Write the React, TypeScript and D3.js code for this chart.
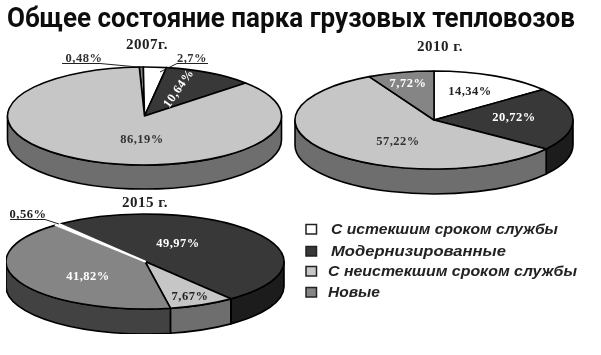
import React from "react";
import * as d3 from "d3";

const categories = ["С истекшим сроком службы", "Модернизированные", "С неистекшим сроком службы", "Новые"];
const topColors = ["#ffffff", "#383838", "#c6c6c6", "#858585"];
const sideColors = ["#e0e0e0", "#1c1c1c", "#6e6e6e", "#424242"];

// [category index, percentage], clockwise from the start angle
const slices2007: [number, number][] = [[3, 0.48], [0, 2.7], [1, 10.64], [2, 86.19]];
const slices2010: [number, number][] = [[0, 14.34], [1, 20.72], [2, 57.22], [3, 7.72]];
const slices2015: [number, number][] = [[1, 49.97], [2, 7.67], [3, 41.82], [0, 0.56]];

const title = "Общее состояние парка грузовых тепловозов";
const FONT_LABEL = "'Liberation Serif', serif";

type Pie = { slices: [number, number][]; cx: number; cy: number; rx: number; ry: number; depth: number; startDeg: number };
const pies: Pie[] = [
  { slices: slices2007, cx: 144.5, cy: 116, rx: 137, ry: 49, depth: 24, startDeg: -2.2 },
  { slices: slices2010, cx: 434, cy: 120, rx: 139, ry: 49, depth: 25, startDeg: 0 },
  { slices: slices2015, cx: 145, cy: 261.5, rx: 139, ry: 47.5, depth: 25, startDeg: -38 },
];

function Pie3D({ p }: { p: Pie }) {
  const start = (p.startDeg * Math.PI) / 180;
  const arcs = d3
    .pie<[number, number]>()
    .sort(null)
    .value((d) => d[1])
    .startAngle(start)
    .endAngle(start + 2 * Math.PI)(p.slices);
  const pt = (a: number, dy = 0): [number, number] => [p.cx + p.rx * Math.sin(a), p.cy - p.ry * Math.cos(a) + dy];
  const sides: React.ReactNode[] = [];
  arcs.forEach((a, i) => {
    // visible rim: parametric angle between 90° and 270°
    for (const shift of [0, 2 * Math.PI]) {
      const a0 = Math.max(a.startAngle, Math.PI / 2 + shift);
      const a1 = Math.min(a.endAngle, (3 * Math.PI) / 2 + shift);
      if (a1 <= a0) continue;
      const [x0, y0] = pt(a0);
      const [x1, y1] = pt(a1);
      const d = `M${x0},${y0}A${p.rx},${p.ry} 0 0 1 ${x1},${y1}L${x1},${y1 + p.depth}A${p.rx},${p.ry} 0 0 0 ${x0},${y0 + p.depth}Z`;
      sides.push(<path key={`s${i}${shift}`} d={d} fill={sideColors[a.data[0]]} stroke="#000" strokeWidth={1.6} strokeLinejoin="round" />);
    }
  });
  const tops = arcs.map((a, i) => {
    const [x0, y0] = pt(a.startAngle);
    const [x1, y1] = pt(a.endAngle);
    const large = a.endAngle - a.startAngle > Math.PI ? 1 : 0;
    const d = `M${p.cx},${p.cy}L${x0},${y0}A${p.rx},${p.ry} 0 ${large} 1 ${x1},${y1}Z`;
    const thinWhite = a.data[0] === 0 && a.data[1] < 1;
    return (
      <path
        key={i}
        d={d}
        fill={topColors[a.data[0]]}
        stroke={thinWhite ? "#fff" : "#000"}
        strokeWidth={thinWhite ? 2 : 1.6}
        strokeLinejoin="round"
      />
    );
  });
  return (
    <g>
      {sides}
      {tops}
    </g>
  );
}

type Lbl = [string, number, number, string, number?];
const valueLabels: Lbl[] = [
  ["0,48%", 84, 58, "#333"],
  ["2,7%", 192, 58, "#333"],
  ["10,64%", 178, 88, "#fff", -55],
  ["86,19%", 142, 139, "#333"],
  ["14,34%", 470, 91, "#222"],
  ["20,72%", 514, 117, "#fff"],
  ["57,22%", 398, 141, "#333"],
  ["7,72%", 408, 83, "#fff"],
  ["49,97%", 178, 243, "#fff"],
  ["41,82%", 88, 276, "#fff"],
  ["7,67%", 190, 296, "#222"],
  ["0,56%", 28, 214, "#222"],
];
const yearLabels: [string, number, number][] = [
  ["2007г.", 147, 44],
  ["2010 г.", 440, 46],
  ["2015 г.", 145, 202],
];
const leaders: [number, number][][] = [
  [[62, 63.5], [100, 63.5], [138, 67]],
  [[208, 63.5], [177, 63.5], [160, 72]],
  [[10, 219.5], [45, 219.5], [59, 224]],
];
const legendRows: [number, number, number][] = [
  [229, 331, 227],
  [251, 331, 175],
  [271, 328, 249],
  [292, 328, 52],
];

export default function App() {
  const line = d3.line();
  return (
    <svg width={601} height={355} viewBox="0 0 601 355" style={{ position: "absolute", left: 0, top: 0, background: "#fff" }}>
      <defs>
        <filter id="soft" x="0" y="0" width="100%" height="100%">
          <feGaussianBlur stdDeviation="0.45" />
        </filter>
      </defs>
      <g filter="url(#soft)">
        <text transform="translate(7 27) scale(0.88 1)" textLength={568 / 0.88} lengthAdjust="spacingAndGlyphs" fontFamily="Roboto,'Liberation Sans',sans-serif" fontWeight="bold" fontSize={28} fill="#111">
          {title}
        </text>
        {pies.map((p, i) => (
          <Pie3D key={i} p={p} />
        ))}
        {leaders.map((l, i) => (
          <path key={i} d={line(l) ?? ""} fill="none" stroke="#222" strokeWidth={1} />
        ))}
        {yearLabels.map(([t, x, y]) => (
          <text key={t} x={x} y={y} dy="0.35em" textAnchor="middle" fontFamily={FONT_LABEL} fontWeight="bold" fontSize={15} letterSpacing={0.5} fill="#222">
            {t}
          </text>
        ))}
        {valueLabels.map(([t, x, y, c, r]) => (
          <text key={t} x={x} y={y} dy="0.35em" textAnchor="middle" transform={r ? `rotate(${r} ${x} ${y})` : undefined} fontFamily={FONT_LABEL} fontWeight="bold" fontSize={12.5} letterSpacing={0.5} fill={c}>
            {t}
          </text>
        ))}
        {categories.map((c, i) => {
          const [y, x, w] = legendRows[i];
          return (
            <g key={c}>
              <rect x={306} y={y - 4.5} width={10.5} height={9.5} fill={topColors[i]} stroke="#222" strokeWidth={1.5} />
              <text x={x} y={y} dy="0.35em" textLength={w} lengthAdjust="spacingAndGlyphs" fontFamily="'Liberation Sans',sans-serif" fontWeight="bold" fontStyle="italic" fontSize={14} fill="#222">
                {c}
              </text>
            </g>
          );
        })}
      </g>
    </svg>
  );
}
